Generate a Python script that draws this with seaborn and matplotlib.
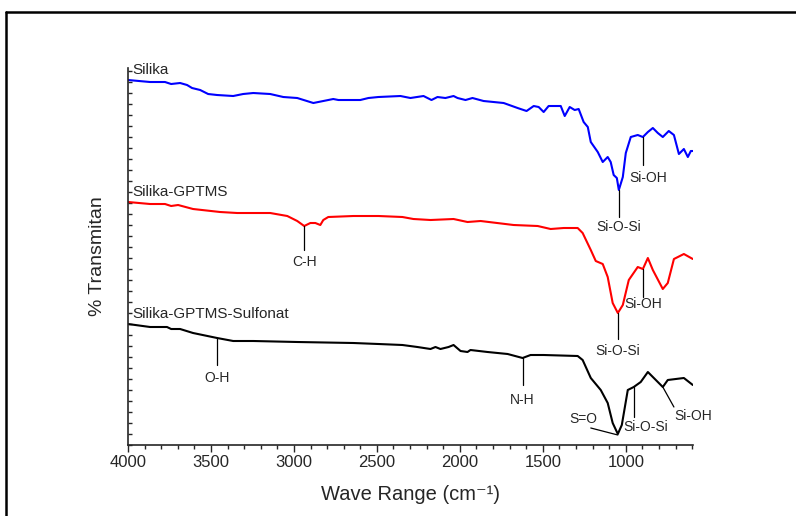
import matplotlib
matplotlib.use("Agg")
import matplotlib.pyplot as plt
import seaborn as sns
import pandas as pd
from matplotlib.ticker import MultipleLocator
from matplotlib.lines import Line2D

# wave number (cm-1) and transmittance (arbitrary, stacked)
silika_wn = [4000, 3867, 3777, 3740, 3686, 3644, 3614, 3565, 3517, 3463, 3366, 3306, 3245,
             3143, 3064, 2980, 2883, 2823, 2763, 2732, 2600, 2551, 2491, 2358, 2298, 2219,
             2171, 2135, 2087, 2038, 2014, 1966, 1924, 1857, 1736, 1652, 1598, 1555, 1525,
             1495, 1465, 1392, 1368, 1338, 1308, 1284, 1254, 1229, 1211, 1169, 1139, 1109,
             1091, 1073, 1054, 1042, 1018, 1000, 970, 928, 897, 867, 837, 807, 777, 741,
             710, 680, 650, 626, 608, 596]
silika_t = [365, 363, 363, 361, 362, 360, 357, 355, 351, 350, 349, 351, 352,
            351, 348, 347, 342, 344, 346, 345, 345, 347, 348, 349, 347, 349,
            345, 348, 347, 349, 347, 345, 347, 344, 342, 337, 334, 339, 338,
            333, 339, 339, 329, 338, 335, 336, 323, 318, 303, 293, 283, 288,
            283, 270, 267, 255, 268, 292, 308, 310, 308, 313, 317, 312, 308, 314,
            310, 291, 296, 288, 294, 294]

gptms_wn = [4000, 3867, 3777, 3740, 3698, 3608, 3445, 3342, 3143, 3040, 2980, 2938, 2901,
            2871, 2841, 2823, 2793, 2642, 2491, 2346, 2280, 2177, 2038, 1954, 1875, 1676,
            1531, 1453, 1374, 1290, 1260, 1211, 1181, 1139, 1109, 1079, 1048, 1018, 982,
            928, 897, 867, 837, 777, 747, 710, 650, 596]
gptms_t = [243, 241, 241, 239, 240, 236, 233, 232, 232, 229, 224, 219, 222,
           222, 220, 225, 228, 229, 229, 228, 226, 225, 226, 223, 224, 220,
           219, 216, 217, 217, 212, 195, 184, 181, 168, 142, 132, 140, 165,
           178, 176, 187, 175, 156, 162, 186, 191, 186]

sulfo_wn = [4000, 3867, 3765, 3740, 3686, 3608, 3463, 3366, 3245, 2980, 2642, 2491, 2346,
            2256, 2177, 2147, 2117, 2068, 2038, 1996, 1954, 1936, 1833, 1712, 1622, 1574,
            1495, 1290, 1260, 1211, 1151, 1109, 1079, 1048, 1024, 988, 952, 910, 867,
            831, 777, 747, 650, 596]
sulfo_t = [121, 118, 118, 116, 116, 112, 107, 104, 104, 103, 102, 101, 100,
           98, 96, 98, 96, 98, 100, 94, 93, 95, 93, 91, 87, 90,
           90, 89, 85, 67, 55, 42, 22, 11, 20, 55, 58, 63, 73,
           67, 58, 65, 67, 60]

series_names = ["Silika", "Silika-GPTMS", "Silika-GPTMS-Sulfonat"]
series_colors = ["#0000FF", "#FF0000", "#000000"]

# peak labels: (text, peak wn, peak T, line end wn, line end T, label wn, label T)
peaks = [
    ("Si-O-Si", 1042, 255, 1042, 228, 1042, 218),
    ("Si-OH", 897, 308, 897, 280, 867, 267),
    ("C-H", 2938, 219, 2938, 195, 2938, 183),
    ("Si-O-Si", 1048, 132, 1048, 106, 1048, 94),
    ("Si-OH", 897, 176, 897, 148, 897, 141),
    ("O-H", 3463, 107, 3463, 80, 3463, 67),
    ("N-H", 1622, 87, 1622, 60, 1622, 45),
    ("S=O", 1048, 10, 1211, 17, 1254, 26),
    ("Si-O-Si", 952, 58, 952, 28, 880, 18),
    ("Si-OH", 777, 58, 710, 38, 596, 29),
]

frames = []
for name, wn, t in zip(series_names, [silika_wn, gptms_wn, sulfo_wn],
                       [silika_t, gptms_t, sulfo_t]):
    frames.append(pd.DataFrame({"wn": wn, "T": t, "sample": name}))
df = pd.concat(frames, ignore_index=True)

sns.set_style("ticks")
plt.rcParams["font.family"] = ["Liberation Sans", "DejaVu Sans"]

fig = plt.figure(figsize=(7.96, 5.16), dpi=100)
ax = fig.add_axes([0.1608, 0.1376, 0.7098, 0.7306])

sns.lineplot(data=df, x="wn", y="T", hue="sample", palette=series_colors,
             sort=False, estimator=None, linewidth=1.5, legend=False, ax=ax)
for line in ax.get_lines():
    line.set_solid_joinstyle("round")

for name, t0 in zip(series_names, [silika_t[0], gptms_t[0], sulfo_t[0]]):
    ax.text(3975, t0 + 3, name, fontsize=11, ha="left", va="bottom")

for label, x0, y0, x1, y1, xt, yt in peaks:
    ax.plot([x0, x1], [y0, y1], color="black", lw=0.9)
    ax.text(xt, yt, label, fontsize=10, ha="center", va="center")

ax.set_xlim(4000, 595)
ax.set_ylim(0, 377)
ax.xaxis.set_major_locator(MultipleLocator(500))
ax.xaxis.set_minor_locator(MultipleLocator(100))
ax.yaxis.set_major_locator(MultipleLocator(11))
ax.set_yticklabels([])
ax.tick_params(axis="x", which="both", direction="out", labelsize=12, width=1)
ax.tick_params(axis="x", which="major", length=5, pad=2)
ax.tick_params(axis="x", which="minor", length=3)
ax.tick_params(axis="y", which="major", direction="in", length=3, width=1)
sns.despine(ax=ax)
for side in ["left", "bottom"]:
    ax.spines[side].set_linewidth(1.2)

ax.set_xlabel("Wave Range (cm⁻¹)", fontsize=14.5, labelpad=11)
ax.set_ylabel("% Transmitan", fontsize=14, labelpad=12)

# outer frame (left and top edges visible in the picture)
fig.add_artist(Line2D([0.0075, 0.0075], [0.0, 0.977], color="black", lw=1.8,
                      transform=fig.transFigure))
fig.add_artist(Line2D([0.0075, 1.0], [0.977, 0.977], color="black", lw=1.8,
                      transform=fig.transFigure))

fig.savefig("out.png", dpi=100)
